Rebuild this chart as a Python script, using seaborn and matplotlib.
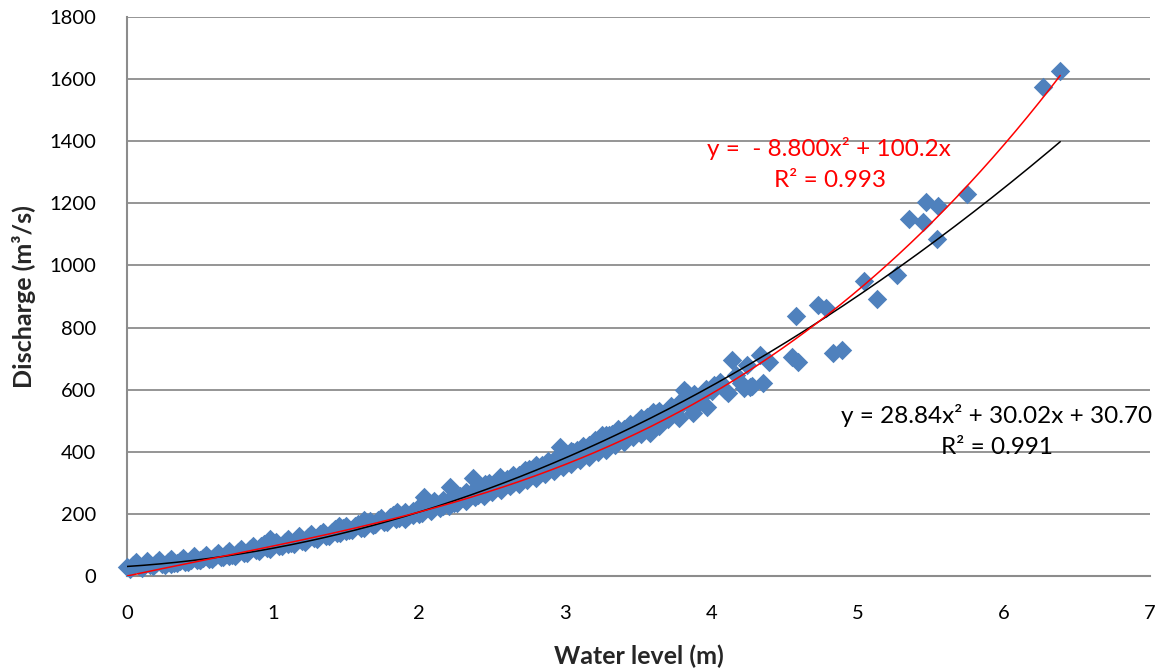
import numpy as np
import pandas as pd
import matplotlib
matplotlib.use("Agg")
import matplotlib.pyplot as plt
import seaborn as sns

# Observed stage (m) and discharge (m3/s) pairs
water_level = [
    0.00, 0.04, 0.08, 0.12, 0.16, 0.20, 0.24, 0.28, 0.32, 0.36,
    0.40, 0.44, 0.48, 0.52, 0.56, 0.60, 0.64, 0.68, 0.72, 0.76,
    0.80, 0.84, 0.88, 0.92, 0.96, 1.00, 1.04, 1.08, 1.12, 1.16,
    1.20, 1.24, 1.28, 1.32, 1.36, 1.40, 1.44, 1.48, 1.52, 1.56,
    1.60, 1.64, 1.68, 1.72, 1.76, 1.80, 1.84, 1.88, 1.92, 1.96,
    2.00, 2.04, 2.08, 2.12, 2.16, 2.20, 2.24, 2.28, 2.32, 2.36,
    2.40, 2.44, 2.48, 2.52, 2.56, 2.60, 2.64, 2.68, 2.72, 2.76,
    2.80, 2.84, 2.88, 2.92, 2.96, 3.00, 3.04, 3.08, 3.12, 3.16,
    3.20, 3.24, 3.28, 3.32, 3.36, 3.40, 3.44, 3.48, 3.52, 3.56,
    3.60, 3.64, 3.68, 3.72, 3.76, 3.80, 3.84, 3.88, 3.92, 3.96,
    4.00,
    0.10, 0.30, 0.50, 0.70, 0.90, 1.10, 1.30, 1.50, 1.70,
    0.02, 0.10, 0.18, 0.26, 0.34, 0.42, 0.50, 0.58, 0.66, 0.74,
    0.82, 0.90, 0.98, 1.06, 1.14, 1.22, 1.30, 1.38, 1.46, 1.54,
    1.62, 1.70, 1.78, 1.86,
    0.06, 0.14, 0.22, 0.30, 0.38, 0.46, 0.54, 0.62, 0.70, 0.78,
    0.86, 0.94, 1.02, 1.10, 1.18, 1.26, 1.34, 1.42, 1.50, 1.58,
    1.66, 1.74, 1.82, 1.90,
    2.00, 2.08, 2.16, 2.24, 2.32, 2.40, 2.48, 2.56, 2.64, 2.72,
    2.80, 2.88, 2.96, 3.04, 3.12, 3.20, 3.28, 3.36, 3.44, 3.52,
    3.60,
    0.62, 0.98, 1.18, 1.45, 1.62, 1.85, 2.10, 2.45, 2.75, 3.05,
    3.30, 3.50,
    1.90, 1.96, 2.02, 2.08, 2.14, 2.20, 2.26, 2.32, 2.38, 2.44,
    2.50, 2.56, 2.62, 2.68, 2.74, 2.80, 2.86, 2.92, 2.98, 3.04,
    3.10, 3.16, 3.22, 3.28, 3.34, 3.40, 3.46, 3.52, 3.58, 3.64,
    3.70,
    2.03, 2.21, 2.37, 2.55, 2.96, 3.25, 3.58, 3.63, 3.78, 3.81,
    3.83, 3.87, 3.92, 3.97, 4.02, 4.06, 4.09, 4.11, 4.14, 4.17,
    4.20, 4.22, 4.24, 4.26, 4.28, 4.33, 4.35, 4.39,
    4.55, 4.59, 4.58, 4.73, 4.78, 4.83, 4.89, 5.04, 5.13, 5.27,
    5.35, 5.45, 5.47, 5.54, 5.55, 5.75, 6.27, 6.386,
]
discharge = [
    30, 34, 31, 38, 35, 41, 38, 45, 42, 49,
    45, 53, 50, 57, 55, 63, 60, 70, 67, 78,
    75, 86, 83, 95, 90, 104, 98, 110, 106, 118,
    113, 126, 121, 135, 130, 143, 139, 153, 147, 161,
    155, 170, 164, 179, 173, 189, 183, 198, 192, 209,
    201, 218, 212, 231, 225, 244, 236, 256, 248, 270,
    261, 284, 274, 297, 287, 311, 300, 325, 314, 340,
    330, 356, 345, 372, 361, 389, 377, 405, 393, 422,
    409, 440, 426, 457, 443, 474, 462, 494, 480, 512,
    498, 530, 516, 548, 536, 567, 556, 586, 574, 602,
    595,
    26, 40, 52, 66, 85, 103, 122, 146, 168,
    22, 28, 33, 37, 42, 46, 50, 55, 60, 66,
    73, 80, 87, 95, 103, 111, 119, 128, 138, 147,
    156, 166, 175, 186,
    45, 48, 51, 55, 58, 63, 67, 72, 80, 87,
    95, 103, 110, 118, 126, 134, 143, 151, 160, 169,
    178, 187, 196, 206,
    221, 233, 245, 258, 271, 284, 298, 312, 326, 341,
    356, 371, 387, 404, 420, 437, 455, 472, 490, 509,
    528,
    75, 118, 128, 160, 180, 205, 240, 295, 345, 400,
    455, 500,
    185, 196, 203, 210, 219, 226, 236, 242, 253, 258,
    270, 278, 289, 296, 309, 316, 330, 338, 352, 360,
    374, 382, 398, 405, 423, 431, 449, 457, 476, 484,
    505,
    254, 287, 315, 318, 415, 455, 460, 525, 509, 599,
    590, 525, 560, 544, 615, 625, 599, 589, 695, 647,
    621, 605, 680, 609, 612, 711, 621, 689,
    705, 689, 837, 872, 863, 718, 728, 951, 891, 969,
    1149, 1141, 1204, 1085, 1192, 1230, 1575, 1626,
]

# Trend line coefficients, highest power first
black_coef = [28.84, 30.02, 30.70]
red_coef = [5.11, -8.800, 100.2, 0.0]

x_ticks = [0, 1, 2, 3, 4, 5, 6, 7]
y_ticks = [0, 200, 400, 600, 800, 1000, 1200, 1400, 1600, 1800]

sns.set_theme(style="white")
plt.rcParams["font.family"] = ["Lato", "DejaVu Sans"]

grid_grey = "#8c8c8c"

fig = plt.figure(figsize=(11.68, 6.71), dpi=100)
ax = fig.add_axes([127 / 1168, 95 / 671, 1023 / 1168, 559 / 671])

df = pd.DataFrame({"level": water_level, "q": discharge})
sns.scatterplot(data=df, x="level", y="q", marker="D", s=98, color="#4F81BD",
                linewidth=0, ax=ax, clip_on=False, zorder=3, legend=False)

xs = np.linspace(0, max(water_level), 400)
sns.lineplot(x=xs, y=np.polyval(black_coef, xs), color="black", linewidth=1.1,
             ax=ax, zorder=4, sort=False, estimator=None)
sns.lineplot(x=xs, y=np.polyval(red_coef, xs), color="#ff0000", linewidth=1.1,
             ax=ax, zorder=5, sort=False, estimator=None)

ax.set_xlim(0, 7)
ax.set_ylim(0, 1800)
ax.set_xticks(x_ticks)
ax.set_yticks(y_ticks)
ax.set_xticklabels([str(v) for v in x_ticks])
ax.set_yticklabels([str(v) for v in y_ticks])
ax.tick_params(axis="both", length=0, labelsize=14.5, colors="black")
ax.tick_params(axis="y", pad=22)
ax.tick_params(axis="x", pad=21)

ax.yaxis.grid(True, color=grid_grey, linewidth=1.3, zorder=0)
ax.xaxis.grid(False)
ax.set_axisbelow(True)
for side in ("top", "right"):
    ax.spines[side].set_visible(False)
for side in ("left", "bottom"):
    ax.spines[side].set_color(grid_grey)
    ax.spines[side].set_linewidth(1.5)

ax.set_xlabel("Water level (m)", fontsize=18, fontweight="bold", labelpad=16)
ax.set_ylabel("Discharge (m³/s)", fontsize=18, fontweight="bold", labelpad=10)

eq_size = 17.5
ax.text(4.80, 1375, "y =  - 8.800x² + 100.2x", color="#ff0000", fontsize=eq_size,
        ha="center", va="center")
ax.text(4.81, 1272, "R² = 0.993", color="#ff0000", fontsize=eq_size,
        ha="center", va="center")
ax.text(5.95, 518, "y = 28.84x² + 30.02x + 30.70", color="black", fontsize=eq_size,
        ha="center", va="center", clip_on=False)
ax.text(5.95, 415, "R² = 0.991", color="black", fontsize=eq_size,
        ha="center", va="center")

fig.savefig("out.png", dpi=100)
